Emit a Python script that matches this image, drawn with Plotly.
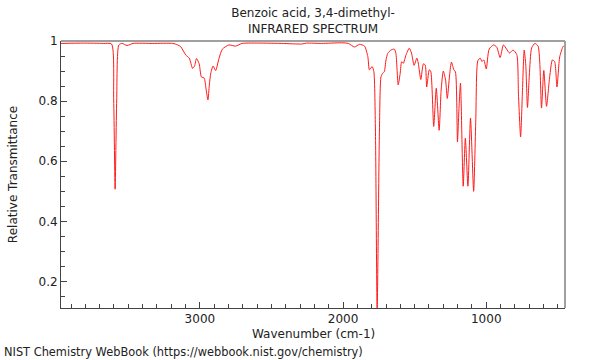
import plotly.graph_objects as go

title_lines = ["Benzoic acid, 3,4-dimethyl-", "INFRARED SPECTRUM"]
x_title = "Wavenumber (cm-1)"
y_title = "Relative Transmittance"
footer = "NIST Chemistry WebBook (https://webbook.nist.gov/chemistry)"

x_tick_vals = [1000, 2000, 3000]
y_tick_vals = [0.2, 0.4, 0.6, 0.8, 1.0]
y_tick_text = ["0.2", "0.4", "0.6", "0.8", "1"]

wavenumber = [
    3970, 3814, 3675, 3617, 3602, 3592, 3581, 3566, 3543, 3509, 3467, 3328, 3189,
    3155, 3134, 3098, 3074, 3051, 3037, 3024, 3005, 2989, 2970, 2958, 2944, 2934,
    2924, 2908, 2890, 2866, 2843, 2797, 2751, 2705, 2566, 2428, 2289, 2254, 2150,
    2012, 1963, 1920, 1885, 1850, 1827, 1816, 1797, 1785, 1774, 1762, 1746, 1735,
    1723, 1712, 1700, 1688, 1665, 1642, 1631, 1615, 1601, 1591, 1579, 1561, 1538,
    1522, 1504, 1485, 1475, 1457, 1439, 1426, 1416, 1398, 1388, 1367, 1349, 1329,
    1315, 1300, 1284, 1272, 1256, 1243, 1227, 1215, 1201, 1191, 1180, 1161, 1146,
    1128, 1110, 1088, 1073, 1059, 1042, 1030, 1017, 1000, 980, 949, 927, 903, 880,
    858, 837, 813, 787, 775, 760, 748, 735, 724, 712, 699, 683, 660, 638, 626, 614,
    598, 579, 557, 538, 522, 506, 487, 464, 450,
]
transmittance = [
    0.992, 0.993, 0.992, 0.990, 0.804, 0.507, 0.804, 0.987, 0.992, 0.985, 0.992, 0.992, 0.992,
    0.987, 0.981, 0.953, 0.943, 0.909, 0.917, 0.942, 0.924, 0.880, 0.877, 0.844, 0.804, 0.854,
    0.893, 0.917, 0.902, 0.943, 0.973, 0.987, 0.983, 0.992, 0.993, 0.992, 0.990, 0.993, 0.992,
    0.994, 0.992, 0.980, 0.989, 0.983, 0.948, 0.904, 0.915, 0.898, 0.704, 0.100, 0.704, 0.881,
    0.893, 0.898, 0.937, 0.959, 0.970, 0.973, 0.959, 0.854, 0.893, 0.931, 0.926, 0.953, 0.976,
    0.960, 0.919, 0.943, 0.927, 0.872, 0.924, 0.920, 0.847, 0.904, 0.900, 0.716, 0.843, 0.703,
    0.837, 0.900, 0.870, 0.809, 0.887, 0.930, 0.905, 0.897, 0.664, 0.771, 0.860, 0.517, 0.677,
    0.517, 0.744, 0.500, 0.738, 0.934, 0.943, 0.932, 0.937, 0.907, 0.973, 0.987, 0.980, 0.945, 0.987,
    0.973, 0.960, 0.970, 0.955, 0.821, 0.681, 0.821, 0.970, 0.920, 0.779, 0.887, 0.977, 0.992, 0.983, 0.927, 0.777,
    0.902, 0.783, 0.881, 0.937, 0.931, 0.847, 0.947, 0.981, 0.987,
]

fig = go.Figure()
fig.add_trace(go.Scatter(
    x=wavenumber, y=transmittance, mode="lines",
    line=dict(color="#ff1a1a", width=1, shape="spline", smoothing=0.6),
    hoverinfo="skip", showlegend=False,
))

font = "DejaVu Sans, Arial, sans-serif"
fig.update_layout(
    width=600, height=360,
    margin=dict(l=57, r=35, t=41, b=52),
    paper_bgcolor="white", plot_bgcolor="white",
    font=dict(family=font, size=12, color="#222"),
    title=dict(text="<br>".join(title_lines), x=0.5, xref="paper", y=0.953, yref="container",
               xanchor="center", yanchor="top", font=dict(size=12, color="#222")),
)
fig.update_xaxes(
    range=[3970, 450], showgrid=False, zeroline=False,
    showline=True, linecolor="#444", linewidth=1,
    tickmode="array", tickvals=x_tick_vals, ticks="inside", ticklen=6, tickcolor="#444",
    minor=dict(dtick=100, ticks="inside", ticklen=4, tickcolor="#444", showgrid=False),
    tickfont=dict(size=12),
)
fig.update_yaxes(
    range=[0.112, 1.0], showgrid=False, zeroline=False,
    showline=True, linecolor="#444", linewidth=1,
    tickmode="array", tickvals=y_tick_vals, ticktext=y_tick_text,
    ticks="inside", ticklen=6, tickcolor="#444",
    minor=dict(dtick=0.05, tick0=0, ticks="inside", ticklen=4, tickcolor="#444", showgrid=False),
    title=dict(text=y_title, standoff=18, font=dict(size=12)),
    tickfont=dict(size=12),
)
# top and right frame lines
fig.add_shape(type="line", xref="paper", yref="paper", x0=0, x1=1, y0=1, y1=1,
              line=dict(color="#a0a0a0", width=2))
fig.add_shape(type="line", xref="paper", yref="paper", x0=1, x1=1, y0=0, y1=1,
              line=dict(color="#a0a0a0", width=2))
fig.add_annotation(text=x_title, xref="paper", yref="paper", x=0.5, y=-26/267,
                   xanchor="center", yanchor="middle", showarrow=False,
                   font=dict(size=12, color="#222"))
fig.add_annotation(text=footer, xref="paper", yref="paper", x=-58/508, y=-52/267,
                   xanchor="left", yanchor="bottom", showarrow=False, borderpad=0,
                   font=dict(size=11.4, color="#222"))

fig.write_html("out.html", config={"displayModeBar": False},
               post_script="document.body.style.margin='0';")
